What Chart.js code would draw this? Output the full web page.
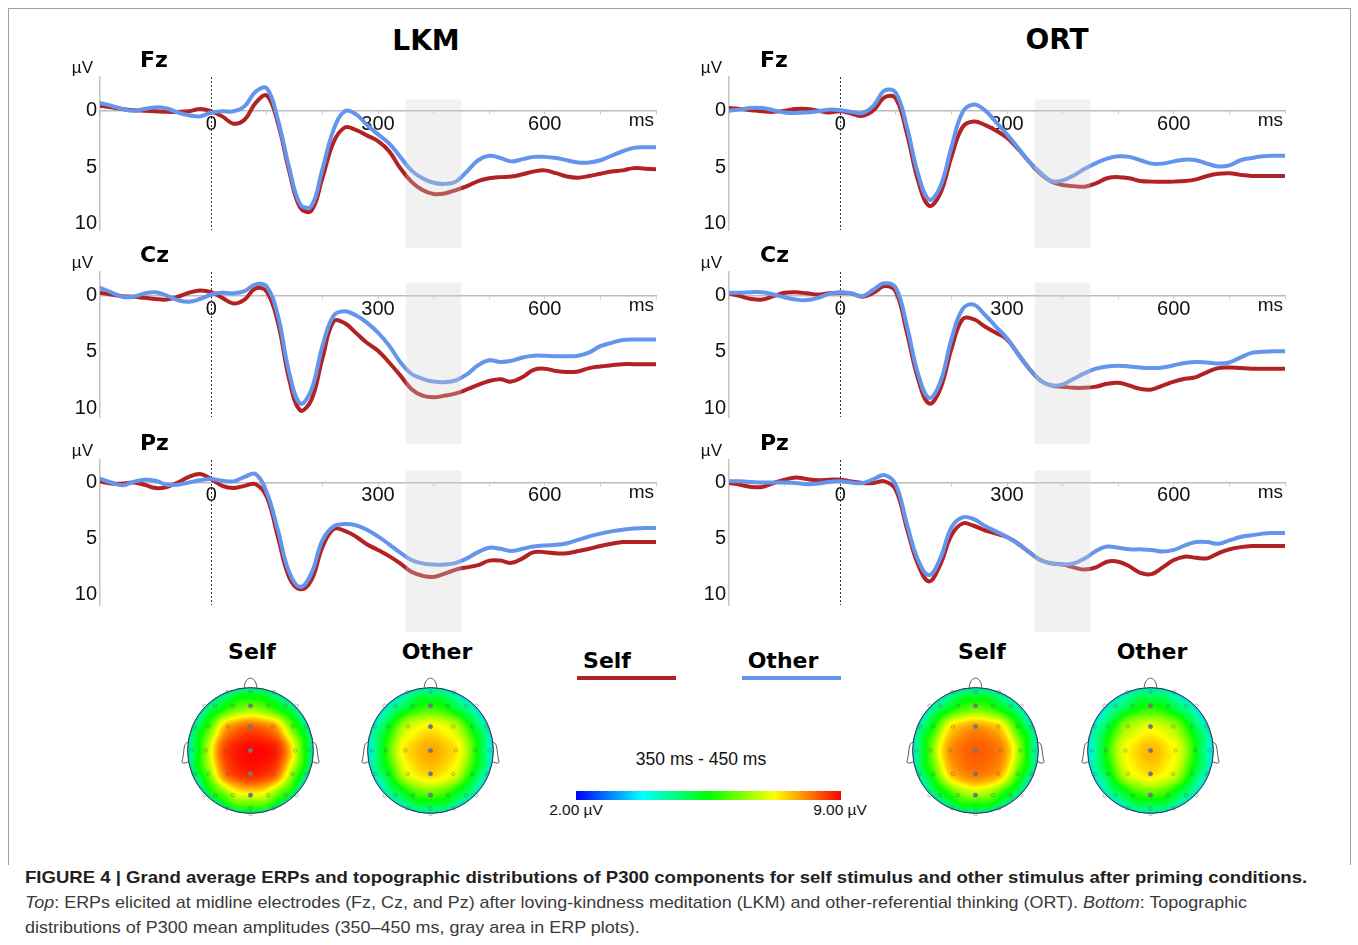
<!DOCTYPE html>
<html>
<head>
<meta charset="utf-8">
<title>Grand average ERPs and P300 topographies</title>
<script src="https://cdn.jsdelivr.net/npm/chart.js@4.4.1/dist/chart.umd.min.js"></script>
<style>
  html, body { margin: 0; padding: 0; background: #fff; }
  body { position: relative; width: 1358px; height: 945px; overflow: hidden; font-family: "Liberation Sans", Arial, sans-serif; color: #111; }
  canvas { position: absolute; }
  .t { position: absolute; white-space: nowrap; line-height: 1; transform: translate(-50%, -50%); }
  .b { font-family: "DejaVu Sans", sans-serif; font-weight: bold; color: #000; }
  #frame { position: absolute; left: 8px; top: 8px; width: 1341px; height: 856px; border: 1px solid #a0a0a0; border-bottom: none; }
  .bar { position: absolute; height: 4px; }
  #colorbar { position: absolute; left: 576px; top: 791px; width: 265px; height: 9px; }
  .cap { position: absolute; left: 25px; white-space: nowrap; font-size: 17px; line-height: 20px; transform-origin: 0 50%; }
</style>
</head>
<body>
<div id="frame"></div>

<div class="t b" style="left:426px;top:41px;font-size:28px">LKM</div>
<div class="t b" style="left:1057px;top:40px;font-size:28px">ORT</div>

<div class="t b" style="left:252px;top:652px;font-size:22px">Self</div>
<div class="t b" style="left:437px;top:652px;font-size:22px">Other</div>
<div class="t b" style="left:982px;top:652px;font-size:22px">Self</div>
<div class="t b" style="left:1152px;top:652px;font-size:22px">Other</div>

<!-- legend -->
<div class="t b" style="left:607px;top:661px;font-size:22px">Self</div>
<div class="bar" style="left:577px;top:676px;width:99px;background:#b22222"></div>
<div class="t b" style="left:783px;top:661px;font-size:22px">Other</div>
<div class="bar" style="left:742px;top:676px;width:99px;background:#6495ed"></div>

<div class="t" style="left:701px;top:760px;font-size:17.5px">350 ms - 450 ms</div>
<div id="colorbar"></div>
<div class="t" style="left:576px;top:810px;font-size:15.5px">2.00 µV</div>
<div class="t" style="left:840px;top:810px;font-size:15.5px">9.00 µV</div>

<div class="cap" id="cap1" style="top:868px;font-weight:bold;color:#231f20">FIGURE 4 | Grand average ERPs and topographic distributions of P300 components for self stimulus and other stimulus after priming conditions.</div>
<div class="cap" id="cap2" style="top:893px;color:#3a3a3a"><i>Top</i>: ERPs elicited at midline electrodes (Fz, Cz, and Pz) after loving-kindness meditation (LKM) and other-referential thinking (ORT). <i>Bottom</i>: Topographic</div>
<div class="cap" id="cap3" style="top:918px;color:#3a3a3a">distributions of P300 mean amplitudes (350–450 ms, gray area in ERP plots).</div>

<script>
// ---- ERP data (µV, positive plotted downward), sampled every 20 ms ----
const times = [-200,-180,-160,-140,-120,-100,-80,-60,-40,-20,0,20,40,60,80,100,120,140,160,180,200,
  220,240,260,280,300,320,340,360,380,400,420,440,460,480,500,520,540,560,580,600,
  620,640,660,680,700,720,740,760,780,800];
const xTickValues = [-200,-100,0,100,200,300,400,500,600,700,800];
const xTickLabels = [0, 300, 600];
const yTickValues = [0, 5, 10];
const p300Window = [350, 450];

const lkmFzSelf = [-0.45,-0.3,-0.15,-0.05,0,0.05,0.1,0.1,0.05,-0.15,0.05,
  0.5,1.15,0.8,-0.7,-1.35,1.1,5.3,8.6,8.9,6.0,
  2.8,1.5,1.7,2.2,2.7,3.6,5.1,6.3,7.05,7.4,
  7.35,7.05,6.7,6.25,6.0,5.9,5.85,5.65,5.4,5.3,
  5.55,5.85,5.95,5.8,5.6,5.4,5.3,5.1,5.15,5.2];
const lkmFzOther = [-0.7,-0.45,-0.15,0,-0.15,-0.3,-0.2,0.15,0.4,0.5,0.15,
  0.05,0.05,-0.4,-1.7,-2.0,0.8,5.0,8.3,8.5,5.2,
  1.7,0.05,0.3,1.25,2.1,2.9,4.1,5.3,6.0,6.4,
  6.5,6.3,5.4,4.4,4.0,4.2,4.5,4.3,4.1,4.1,
  4.2,4.4,4.6,4.6,4.4,4.0,3.6,3.3,3.25,3.25];
const lkmCzSelf = [-0.25,-0.1,0.05,0.1,0.2,0.3,0.35,0.1,-0.25,-0.45,-0.3,
  0.2,0.7,0.35,-0.65,-0.35,2.4,7.4,10.2,9.3,5.6,
  2.3,2.45,3.3,4.2,4.9,5.95,7.1,8.3,8.9,9.05,
  8.9,8.7,8.35,7.95,7.6,7.45,7.65,7.25,6.6,6.5,
  6.7,6.8,6.75,6.45,6.3,6.2,6.1,6.1,6.1,6.1];
const lkmCzOther = [-0.7,-0.3,0.1,0.1,-0.2,-0.3,0,0.4,0.55,0.3,-0.1,
  -0.25,-0.2,-0.4,-1.0,-0.8,1.8,6.8,9.6,8.4,4.5,
  1.8,1.4,1.75,2.4,3.3,4.45,5.9,6.95,7.4,7.65,
  7.7,7.55,7.0,6.2,5.75,5.9,5.8,5.5,5.35,5.35,
  5.4,5.4,5.35,5.05,4.5,4.2,3.95,3.9,3.9,3.9];
const lkmPzSelf = [-0.1,0.1,0.1,0,0.2,0.5,0.4,0,-0.5,-0.75,-0.3,
  0.3,0.5,0.3,0.15,1.3,4.85,8.4,9.5,8.7,5.75,
  4.15,4.3,4.8,5.5,6.0,6.55,7.2,7.95,8.3,8.4,
  8.1,7.75,7.55,7.35,6.95,6.95,7.15,6.75,6.2,6.2,
  6.3,6.3,6.1,5.9,5.65,5.45,5.3,5.3,5.3,5.3];
const lkmPzOther = [-0.35,0,0.25,-0.05,-0.25,-0.15,0.2,0.2,0,-0.2,-0.3,
  -0.15,-0.1,-0.5,-0.75,0.9,4.25,7.95,9.3,8.1,5.15,
  3.9,3.7,3.8,4.2,4.8,5.5,6.25,6.9,7.2,7.3,
  7.3,7.15,6.75,6.2,5.8,5.9,6.1,5.9,5.7,5.6,
  5.55,5.4,5.1,4.8,4.55,4.35,4.2,4.1,4.05,4.05];

const ortFzSelf = [-0.25,-0.15,-0.05,0.05,0.1,0,-0.15,-0.15,0,0.15,0.05,
  0.25,0.45,-0.05,-1.2,-1.1,2.05,6.2,8.45,7.35,4.1,
  1.45,0.95,1.25,1.75,2.4,3.4,4.55,5.6,6.3,6.6,
  6.7,6.75,6.45,6.0,5.9,6.0,6.25,6.3,6.3,6.3,
  6.25,6.1,5.8,5.6,5.55,5.7,5.8,5.8,5.8,5.8];
const ortFzOther = [0,-0.1,-0.25,-0.25,-0.05,0.15,0.2,0.15,0.05,-0.1,-0.05,
  0.1,0.2,-0.45,-1.8,-1.6,1.45,5.6,7.9,6.75,3.25,
  0.15,-0.55,-0.05,1.0,2.1,3.3,4.55,5.5,6.25,6.2,
  5.75,5.15,4.65,4.25,4.05,4.1,4.4,4.7,4.7,4.5,
  4.35,4.4,4.7,4.95,4.85,4.4,4.2,4.05,4.0,4.0];
const ortCzSelf = [-0.2,0.05,0.3,0.35,0.05,-0.25,-0.3,-0.2,-0.1,-0.2,-0.25,
  -0.2,0.1,-0.25,-0.85,-0.35,3.3,7.4,9.6,8.3,4.75,
  2.1,2.1,2.75,3.3,3.9,5.2,6.5,7.55,8.0,8.1,
  8.2,8.2,8.1,7.85,7.75,8.0,8.3,8.35,8.0,7.65,
  7.4,7.25,6.8,6.45,6.4,6.45,6.5,6.5,6.5,6.5];
const ortCzOther = [-0.25,-0.25,-0.3,-0.3,-0.1,0.15,0.35,0.4,0.2,-0.15,-0.3,
  -0.2,0.05,-0.55,-1.1,-0.7,2.7,6.95,9.1,7.7,3.9,
  1.2,0.8,1.7,2.75,3.8,5.2,6.5,7.55,8.0,7.9,
  7.4,6.9,6.5,6.3,6.25,6.3,6.4,6.45,6.4,6.2,
  6.0,5.9,5.95,6.05,5.95,5.5,5.1,5.0,4.95,4.95];
const ortPzSelf = [0.05,0.2,0.4,0.4,0.05,-0.25,-0.45,-0.3,-0.2,-0.25,-0.25,
  -0.1,0.05,0.05,-0.1,0.65,4.1,7.3,8.8,7.3,4.7,
  3.65,3.85,4.25,4.55,4.85,5.45,6.2,6.9,7.2,7.3,
  7.55,7.75,7.55,7.05,7.05,7.45,8.05,8.15,7.55,6.9,
  6.6,6.7,6.75,6.3,5.95,5.75,5.65,5.65,5.65,5.65];
const ortPzOther = [-0.1,-0.1,-0.05,0,0,0,0.05,0.15,0.1,-0.05,-0.1,
  0,0.05,-0.3,-0.65,0.2,3.7,6.9,8.25,6.75,4.0,
  3.1,3.25,3.85,4.35,4.85,5.45,6.2,6.9,7.2,7.3,
  7.2,6.75,6.1,5.7,5.8,5.95,5.95,6.0,6.15,6.0,
  5.6,5.3,5.3,5.45,5.15,4.85,4.7,4.55,4.5,4.5];

// ---- topography data: electrode positions (head radius = 1) and mean amplitudes 350-450 ms ----
const electrodes = [
  [-0.37,-0.93],[0,-0.935],[0.37,-0.93],
  [-0.73,-0.71],[-0.56,-0.71],[-0.28,-0.71],[0,-0.71],[0.28,-0.71],[0.56,-0.71],[0.73,-0.71],
  [-0.885,-0.38],[-0.67,-0.38],[-0.36,-0.38],[0,-0.38],[0.36,-0.38],[0.67,-0.38],[0.885,-0.38],
  [-0.935,0],[-0.71,0],[-0.4,0],[0,0],[0.4,0],[0.71,0],[0.935,0],
  [-0.885,0.37],[-0.67,0.37],[-0.36,0.37],[0,0.37],[0.36,0.37],[0.67,0.37],[0.885,0.37],
  [-0.73,0.71],[-0.56,0.71],[-0.28,0.71],[0,0.71],[0.28,0.71],[0.56,0.71],[0.73,0.71],
  [-0.37,0.92],[0,0.92],[0.37,0.92],
  [0,1.01]
];
const midlineIdx = [6, 13, 20, 27, 34];
const lkmSelfTopo = [5.0,5.3,5.0,
  4.8,5.5,6.2,6.6,6.2,5.5,4.8,
  5.3,6.6,8.3,8.6,8.4,7.0,5.3,
  5.3,7.1,8.8,9.0,9.0,7.9,5.8,
  5.3,7.2,8.7,8.9,8.8,7.6,5.3,
  5.2,6.6,7.6,8.0,7.7,6.6,5.2,
  5.5,6.3,5.5,
  5.2];
const lkmOtherTopo = [4.6,5.0,4.6,
  4.2,5.0,5.8,6.1,5.8,5.0,4.2,
  4.8,6.0,7.2,7.5,7.2,6.1,4.8,
  4.8,6.2,7.6,7.9,7.6,6.4,4.8,
  4.8,6.0,7.4,7.7,7.4,6.2,4.8,
  4.4,5.4,6.3,6.7,6.3,5.4,4.4,
  4.6,5.2,4.6,
  4.4];
const ortSelfTopo = [4.8,5.1,4.8,
  4.5,5.3,6.0,6.3,6.0,5.3,4.5,
  5.0,6.4,7.9,8.2,8.0,6.6,5.0,
  5.0,6.8,8.2,8.4,8.3,7.2,5.2,
  5.0,6.6,8.1,8.3,8.2,7.0,5.0,
  4.8,5.8,6.9,7.4,7.0,5.9,4.8,
  5.0,5.6,5.0,
  4.8];
const ortOtherTopo = [4.5,4.9,4.5,
  4.1,4.9,5.6,5.9,5.6,4.9,4.1,
  4.7,5.8,6.9,7.3,6.9,5.9,4.7,
  4.6,6.0,7.4,7.8,7.4,6.1,4.6,
  4.6,5.9,7.3,7.6,7.3,6.0,4.6,
  4.3,5.3,6.2,6.6,6.2,5.3,4.3,
  4.5,5.1,4.5,
  4.3];
// values on the head outline, 12 directions clockwise from the nose
const lkmSelfRim = [4.2,3.8,3.3,3.0,3.3,3.7,4.1,3.7,3.3,3.0,3.3,3.8];
const lkmOtherRim = [3.9,3.4,3.0,2.8,3.0,3.4,3.8,3.4,3.0,2.8,3.0,3.4];
const ortSelfRim = [4.0,3.6,3.2,3.0,3.3,3.6,4.0,3.6,3.3,3.0,3.1,3.5];
const ortOtherRim = [3.8,3.4,3.0,2.9,3.0,3.4,3.7,3.4,3.0,2.9,3.0,3.4];
const colorMin = 2, colorMax = 9;
const jetStops = [[0, 0, 0, 255], [0.25, 0, 255, 255], [0.5, 0, 255, 0], [0.75, 255, 255, 0], [1, 255, 0, 0]];

// ---- layout ----
const RED = '#b22222', BLUE = '#6495ed';
const PX_PER_UV = 11.25, PLOT_W = 556;
const columns = [
  { left: 100, labelDx: 40 },
  { left: 729, labelDx: 31 }
];
const rows = [
  { name: 'Fz', zero: 111, yMin: -3.0, yMax: 10.6, band: [-1.0, 12.2] },
  { name: 'Cz', zero: 296, yMin: -2.1, yMax: 10.8, band: [-1.15, 13.2] },
  { name: 'Pz', zero: 482, yMin: -2.0, yMax: 10.9, band: [-1.07, 13.3] }
];
const panels = [
  [0, 0, lkmFzSelf, lkmFzOther], [0, 1, lkmCzSelf, lkmCzOther], [0, 2, lkmPzSelf, lkmPzOther],
  [1, 0, ortFzSelf, ortFzOther], [1, 1, ortCzSelf, ortCzOther], [1, 2, ortPzSelf, ortPzOther]
];

function makeCanvas(left, top, w, h) {
  const c = document.createElement('canvas');
  c.width = w; c.height = h;
  c.style.left = left + 'px';
  c.style.top = top + 'px';
  document.body.appendChild(c);
  return c.getContext('2d');
}

// stimulus onset line, P300 window and panel texts
const erpDecor = {
  id: 'erpDecor',
  beforeDatasetsDraw(chart, args, o) {
    const { ctx, chartArea: a, scales: { x } } = chart;
    const x0 = Math.round(x.getPixelForValue(0)) + 0.5;
    ctx.save();
    ctx.strokeStyle = '#333';
    ctx.lineWidth = 1;
    ctx.setLineDash([2, 2]);
    ctx.beginPath();
    ctx.moveTo(x0, a.top);
    ctx.lineTo(x0, a.bottom);
    ctx.stroke();
    ctx.restore();
  },
  afterDatasetsDraw(chart, args, o) {
    const { ctx, scales: { x, y } } = chart;
    const xa = x.getPixelForValue(p300Window[0]), xb = x.getPixelForValue(p300Window[1]);
    const ya = y.getPixelForValue(o.band[0]), yb = y.getPixelForValue(o.band[1]);
    ctx.save();
    ctx.fillStyle = 'rgba(210,210,210,0.3)';
    ctx.fillRect(xa, ya, xb - xa, yb - ya);
    ctx.restore();
  },
  afterDraw(chart, args, o) {
    const { ctx, chartArea: a, scales: { y } } = chart;
    const zero = y.getPixelForValue(0);
    ctx.save();
    ctx.fillStyle = '#000';
    ctx.textBaseline = 'middle';
    ctx.textAlign = 'left';
    ctx.font = 'bold 22px "DejaVu Sans"';
    ctx.fillText(o.name, a.left + o.labelDx, a.top - 15.5);
    ctx.fillStyle = '#111';
    ctx.textAlign = 'right';
    ctx.font = '17px "Liberation Sans"';
    ctx.fillText('µV', a.left - 7, a.top - 8.5);
    ctx.font = '19px "Liberation Sans"';
    ctx.fillText('ms', a.right - 2, zero + 10.5);
    ctx.restore();
  }
};

function erpChart(col, row, self, other) {
  const top = Math.round(row.zero + row.yMin * PX_PER_UV);
  const h = Math.round((row.yMax - row.yMin) * PX_PER_UV);
  const padTop = 60, padBottom = 40, axisW = 50, padRight = 25;
  const ctx = makeCanvas(col.left - axisW, top - padTop, axisW + PLOT_W + padRight, padTop + h + padBottom);
  const tickFont = { family: '"Liberation Sans", Arial, sans-serif', size: 20, lineHeight: 1.05 };
  new Chart(ctx, {
    type: 'line',
    data: {
      datasets: [
        { label: 'Self', data: times.map((t, i) => ({ x: t, y: self[i] })), borderColor: RED, order: 2 },
        { label: 'Other', data: times.map((t, i) => ({ x: t, y: other[i] })), borderColor: BLUE, order: 1 }
      ]
    },
    options: {
      responsive: false,
      animation: false,
      events: [],
      layout: { padding: { left: 0, top: padTop, right: padRight, bottom: padBottom } },
      elements: {
        point: { radius: 0 },
        line: { tension: 0.4, borderWidth: 4, borderCapStyle: 'round', fill: false }
      },
      plugins: {
        legend: { display: false },
        tooltip: { enabled: false },
        erpDecor: { band: row.band, name: row.name, labelDx: col.labelDx }
      },
      scales: {
        x: {
          type: 'linear', min: -200, max: 800,
          position: { y: 0 },
          afterBuildTicks: s => { s.ticks = xTickValues.map(v => ({ value: v })); },
          grid: { display: true, drawOnChartArea: false, drawTicks: true, tickLength: 3, color: '#cfcfcf' },
          border: { display: true, color: '#bcbcbc', width: 1.5 },
          ticks: {
            autoSkip: false, maxRotation: 0, padding: 0, color: '#111', font: tickFont,
            callback: v => xTickLabels.includes(v) ? String(v) : ''
          }
        },
        y: {
          type: 'linear', reverse: true, min: row.yMin, max: row.yMax,
          afterBuildTicks: s => { s.ticks = yTickValues.map(v => ({ value: v })); },
          afterFit: s => { s.width = axisW; },
          grid: { display: false, drawTicks: false },
          border: { display: true, color: '#c4c4c4', width: 1.5 },
          ticks: { padding: 3, color: '#111', font: tickFont }
        }
      }
    },
    plugins: [erpDecor]
  });
}

panels.forEach(([c, r, s, o]) => erpChart(columns[c], rows[r], s, o));

// ---- topographic maps ----
function jet(t) {
  t = Math.min(1, Math.max(0, t));
  for (let i = 1; i < jetStops.length; i++) {
    if (t <= jetStops[i][0]) {
      const a = jetStops[i - 1], b = jetStops[i];
      const f = (t - a[0]) / (b[0] - a[0]);
      return [a[1] + (b[1] - a[1]) * f, a[2] + (b[2] - a[2]) * f, a[3] + (b[3] - a[3]) * f];
    }
  }
  return jetStops[jetStops.length - 1].slice(1);
}

function topoValue(ex, ey, vals, rim) {
  const s2 = 2 * 0.155 * 0.155;
  let ws = 0, vs = 0;
  for (let i = 0; i < electrodes.length; i++) {
    const dx = ex - electrodes[i][0], dy = ey - electrodes[i][1];
    const w = Math.exp(-(dx * dx + dy * dy) / s2);
    ws += w; vs += w * vals[i];
  }
  for (let k = 0; k < rim.length; k++) {
    const th = k / rim.length * 2 * Math.PI;
    const dx = ex - Math.sin(th), dy = ey + Math.cos(th);
    const w = Math.exp(-(dx * dx + dy * dy) / s2);
    ws += w; vs += w * rim[k];
  }
  return vs / ws;
}

const headDecor = {
  id: 'headDecor',
  beforeDatasetsDraw(chart, args, o) {
    const { ctx, scales: { x, y } } = chart;
    const cx = x.getPixelForValue(0), cy = y.getPixelForValue(0);
    const r = x.getPixelForValue(1) - cx;
    const size = Math.ceil(2 * r) + 4;
    const ox = Math.floor(cx - size / 2), oy = Math.floor(cy - size / 2);
    const off = document.createElement('canvas');
    off.width = size; off.height = size;
    const octx = off.getContext('2d');
    const img = octx.createImageData(size, size);
    for (let j = 0; j < size; j++) {
      for (let i = 0; i < size; i++) {
        const ex = x.getValueForPixel(ox + i + 0.5), ey = y.getValueForPixel(oy + j + 0.5);
        if (ex * ex + ey * ey > 1.1) continue;
        const v = topoValue(ex, ey, o.values, o.rim);
        const c = jet((v - colorMin) / (colorMax - colorMin));
        const p = (j * size + i) * 4;
        img.data[p] = c[0]; img.data[p + 1] = c[1]; img.data[p + 2] = c[2]; img.data[p + 3] = 255;
      }
    }
    octx.putImageData(img, 0, 0);
    ctx.save();
    ctx.beginPath();
    ctx.arc(cx, cy, r, 0, 2 * Math.PI);
    ctx.clip();
    ctx.drawImage(off, ox, oy);
    // thin cool edge along the scalp outline
    const edge = ctx.createRadialGradient(cx, cy, r * 0.9, cx, cy, r);
    edge.addColorStop(0, 'rgba(0,220,230,0)');
    edge.addColorStop(0.7, 'rgba(0,210,240,0.35)');
    edge.addColorStop(1, 'rgba(0,120,255,0.75)');
    ctx.fillStyle = edge;
    ctx.fillRect(cx - r, cy - r, 2 * r, 2 * r);
    ctx.restore();

    ctx.save();
    ctx.strokeStyle = '#3a3a3a';
    ctx.lineWidth = 1;
    ctx.beginPath();
    ctx.arc(cx, cy, r, 0, 2 * Math.PI);
    ctx.stroke();
    ctx.strokeStyle = '#555';
    // nose
    ctx.beginPath();
    ctx.moveTo(cx - 0.1 * r, cy - 0.995 * r);
    ctx.bezierCurveTo(cx - 0.09 * r, cy - 1.2 * r, cx + 0.09 * r, cy - 1.2 * r, cx + 0.1 * r, cy - 0.995 * r);
    ctx.stroke();
    // ears
    [-1, 1].forEach(sd => {
      ctx.beginPath();
      ctx.moveTo(cx + sd * 0.99 * r, cy - 0.13 * r);
      ctx.bezierCurveTo(cx + sd * 1.07 * r, cy - 0.13 * r, cx + sd * 1.05 * r, cy + 0.02 * r, cx + sd * 1.08 * r, cy + 0.14 * r);
      ctx.quadraticCurveTo(cx + sd * 1.11 * r, cy + 0.21 * r, cx + sd * 1.04 * r, cy + 0.2 * r);
      ctx.lineTo(cx + sd * 0.995 * r, cy + 0.18 * r);
      ctx.stroke();
    });
    ctx.restore();
  }
};

function headChart(cx, cy, values, rim) {
  const size = 167;
  const ctx = makeCanvas(Math.round(cx - size / 2), Math.round(cy - size / 2), size, size);
  new Chart(ctx, {
    type: 'scatter',
    data: {
      datasets: [{
        data: electrodes.map(e => ({ x: e[0], y: e[1] })),
        pointRadius: electrodes.map((e, i) => midlineIdx.includes(i) ? 2.1 : 1.7),
        pointBackgroundColor: electrodes.map((e, i) => midlineIdx.includes(i) ? '#777' : 'rgba(0,0,0,0)'),
        pointBorderColor: electrodes.map((e, i) => midlineIdx.includes(i) ? '#777' : 'rgba(95,95,95,0.55)'),
        pointBorderWidth: 0.8
      }]
    },
    options: {
      responsive: false,
      animation: false,
      events: [],
      layout: { padding: 0 },
      plugins: { legend: { display: false }, tooltip: { enabled: false }, headDecor: { values, rim } },
      scales: {
        x: { type: 'linear', display: false, min: -1.25, max: 1.25 },
        y: { type: 'linear', display: false, min: -1.25, max: 1.25, reverse: true }
      }
    },
    plugins: [headDecor]
  });
}

headChart(250.5, 750.5, lkmSelfTopo, lkmSelfRim);
headChart(430.5, 750.5, lkmOtherTopo, lkmOtherRim);
headChart(975.5, 750.5, ortSelfTopo, ortSelfRim);
headChart(1150.5, 750.5, ortOtherTopo, ortOtherRim);

// colour bar
document.getElementById('colorbar').style.background =
  'linear-gradient(to right,' + jetStops.map(s => `rgb(${s[1]},${s[2]},${s[3]}) ${s[0] * 100}%`).join(',') + ')';

// narrow caption lines to their printed widths
[['cap1', 1282], ['cap2', 1222], ['cap3', 615]].forEach(([id, w]) => {
  const el = document.getElementById(id);
  el.style.transform = 'scaleX(' + (w / el.offsetWidth) + ')';
});
</script>
</body>
</html>
